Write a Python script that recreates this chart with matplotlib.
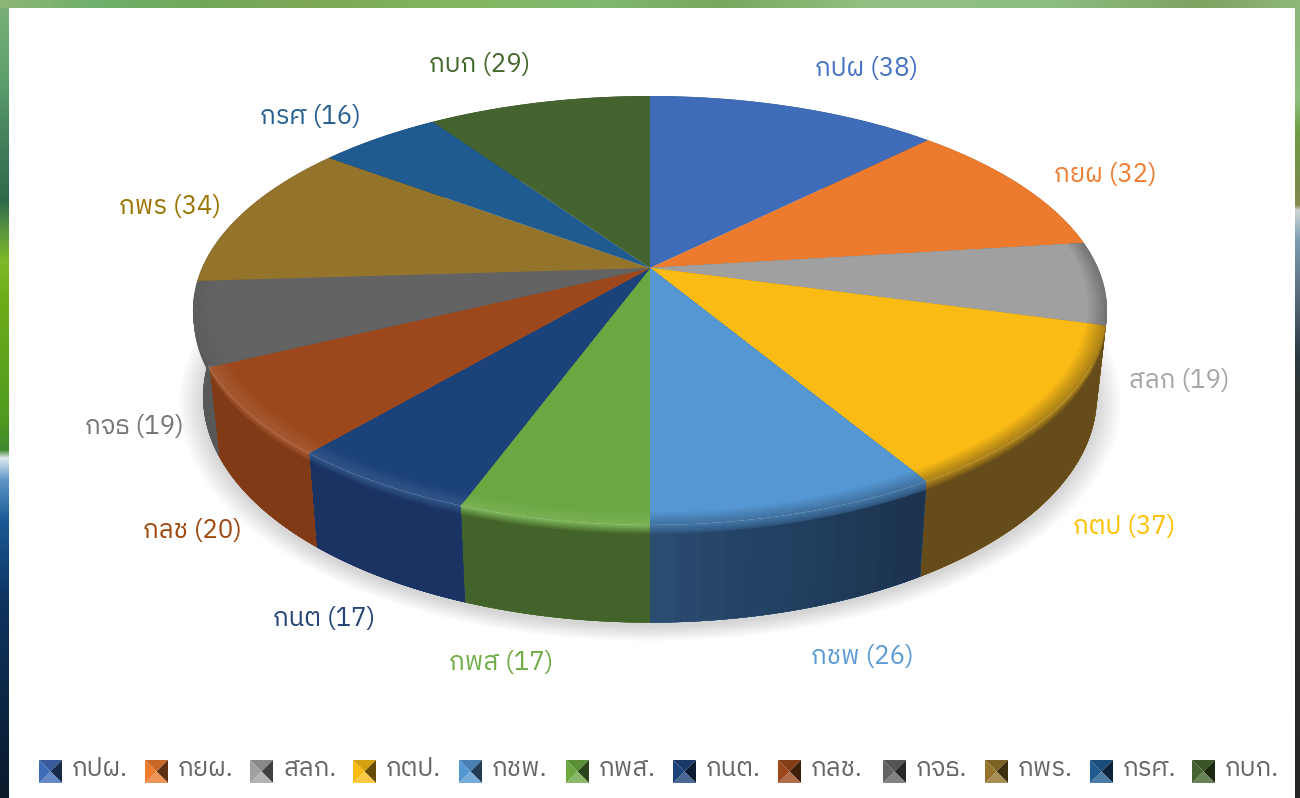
import matplotlib

matplotlib.use("Agg")
import matplotlib.pyplot as plt
import numpy as np
from matplotlib.colors import LinearSegmentedColormap, to_rgb
from matplotlib.patches import Polygon

plt.rcParams["font.family"] = ["IBM Plex Sans Thai", "Kanit", "Noto Sans", "DejaVu Sans"]

# slices, clockwise from 12 o'clock
names = ["กปผ", "กยผ", "สลก", "กตป", "กชพ", "กพส", "กนต", "กลช", "กจธ", "กพร", "กรศ", "กบก"]
values = [38, 32, 19, 37, 26, 17, 17, 20, 19, 34, 16, 29]
top_colors = ["#3f6cb9", "#ec7b2e", "#9fa09f", "#fabb14", "#5597d2", "#6ba842",
              "#1c427a", "#9c481c", "#636363", "#94732b", "#1f5b90", "#44632e"]
side_colors = ["#2a4a80", "#8f4a1c", "#4a4a4a", "#654c1a", "#2c4f75", "#42632a",
               "#1a3362", "#803a16", "#585858", "#5c4718", "#163a5c", "#2a3f1c"]
label_colors = ["#4472c4", "#ed7d31", "#a5a5a5", "#ffc000", "#5b9bd5", "#70ad47",
                "#264478", "#9e480e", "#757575", "#997300", "#255e91", "#43682b"]

# where the text sits (pixels of the 1300x798 picture)
label_xy = [(867, 69), (1105, 175), (1179, 380), (1124, 527), (862, 656), (501, 663),
            (324, 619), (192, 531), (134, 427), (170, 207), (310, 117), (480, 65)]
legend_x = [39, 145, 250, 353, 459, 566, 673, 778, 883, 985, 1090, 1192]

# frame colours: (position in px, colour)
top_band = [(0, "#8db675"), (100, "#6fb06c"), (200, "#70a858"), (300, "#7da757"), (450, "#82b55f"),
            (600, "#7fb96f"), (720, "#78a85e"), (870, "#92c183"), (1050, "#8dbf82"), (1200, "#7ea262"),
            (1300, "#8fb87a")]
left_band = [(0, "#7cb27a"), (80, "#5d9f6c"), (150, "#3f7c5a"), (200, "#2e6a4a"), (230, "#5a9540"),
             (260, "#7db828"), (300, "#6dad1a"), (420, "#4f9a1e"), (450, "#3f8a30"), (458, "#e0eaf0"),
             (480, "#5f96c8"), (520, "#1a5a96"), (600, "#0e3460"), (798, "#0a1a2c")]
right_band = [(0, "#8ab87a"), (100, "#8cc07c"), (130, "#6f9e42"), (190, "#7a8a4a"), (205, "#8a8a50"),
              (210, "#d0d8d8"), (240, "#7a9cb0"), (300, "#566a78"), (355, "#2a3a42"), (400, "#303430"),
              (798, "#262626")]


def project(theta, radius=1.0, level="top"):
    # perspective view of the disc, theta in degrees clockwise from top
    u = radius * np.sin(np.radians(theta))
    v = radius * np.cos(np.radians(theta))
    k = 0.198
    if level == "top":
        a, b, y0 = 448, 206, 268
    else:
        a, b, y0 = 438, 217, 352
    return np.column_stack([650 + a * u / (1 + k * v), y0 - b * v / (1 + k * v)])


def mix(c1, c2, t):
    return tuple((1 - t) * np.array(to_rgb(c1)) + t * np.array(to_rgb(c2)))


def band_image(ax, stops, extent, vertical):
    pos = np.array([s[0] for s in stops], dtype=float)
    cmap = LinearSegmentedColormap.from_list(
        "band", [((p - pos[0]) / (pos[-1] - pos[0]), s[1]) for p, s in zip(pos, stops)], N=800
    )
    grad = np.linspace(0, 1, 800)
    grad = grad[:, None] if vertical else grad[None, :]
    ax.imshow(grad, cmap=cmap, extent=extent, aspect="auto", origin="upper" if vertical else "lower",
              zorder=1, interpolation="bilinear")


fig = plt.figure(figsize=(13, 7.98), dpi=100)
ax = fig.add_axes([0, 0, 1, 1])

band_image(ax, left_band, (0, 9, 798, 0), True)
band_image(ax, right_band, (1295, 1300, 798, 0), True)
band_image(ax, top_band, (0, 1300, 8, 0), False)

# soft shadow under the disc
full = np.linspace(0, 360, 361)
for grow in np.linspace(1.055, 1.0, 14):
    ring = project(full, 1.0, "bottom")
    ring = np.array([650, 352]) + (ring - np.array([650, 352])) * grow + np.array([0, 4])
    ax.add_patch(Polygon(ring, closed=True, fc="black", ec="none", alpha=0.011, zorder=2))

angles = np.cumsum([0] + values) / sum(values) * 360

for i in range(len(values)):
    arc = np.linspace(angles[i], angles[i + 1], 60)
    mid = (angles[i] + angles[i + 1]) / 2
    top_col, side_col = top_colors[i], side_colors[i]
    front = 90 < mid < 270
    lit = 180 < mid < 250
    rim = mix(top_col, "white", 0.09) if lit else mix(top_col, side_col, 0.5)

    # side wall, painted from the top ring down
    outer_top = project(arc)
    outer_bottom = project(arc, level="bottom")
    for t in np.linspace(0, 0.09, 6):
        upper = outer_top + (outer_bottom - outer_top) * t
        ax.add_patch(Polygon(np.vstack([upper, outer_bottom[::-1]]), closed=True,
                             fc=mix(rim if front else side_col, side_col, t / 0.09), ec="none", zorder=3))

    # the light-blue wall gets darker toward the right
    if names[i] == "กชพ":
        for k in np.linspace(60, 8, 12).astype(int):
            upper = outer_top[:k] + (outer_bottom[:k] - outer_top[:k]) * 0.09
            ax.add_patch(Polygon(np.vstack([upper, outer_bottom[:k][::-1]]), closed=True,
                                 fc="black", ec="none", alpha=0.028, zorder=3))

    # top face, with the rim blending in on the near side only
    if front:
        for r in np.linspace(1.0, 0.96, 7):
            w = (1.0 - r) / 0.04
            face = np.vstack([[[650, 268]], project(arc, r)])
            ax.add_patch(Polygon(face, closed=True, fc=mix(rim, top_col, w), ec="none", zorder=4))
    else:
        face = np.vstack([[[650, 268]], project(arc)])
        ax.add_patch(Polygon(face, closed=True, fc=top_col, ec="none", zorder=4))

    ax.text(label_xy[i][0], label_xy[i][1], f"{names[i]} ({values[i]})", color=label_colors[i],
            fontsize=18.5, ha="center", va="center", zorder=6)

    # legend key, a little pyramid
    x0, y0, s = legend_x[i], 760, 23
    c = (x0 + s / 2, y0 + s / 2)
    corners = [(x0, y0), (x0 + s, y0), (x0 + s, y0 + s), (x0, y0 + s)]
    shades = [mix(top_col, "black", 0.15), mix(top_col, "black", 0.6),
              mix(top_col, "white", 0.2), top_col]
    for j in range(4):
        ax.add_patch(Polygon([corners[j], corners[(j + 1) % 4], c], closed=True,
                             fc=shades[j], ec="none", zorder=5))
    ax.text(x0 + s + 10, 769, names[i] + ".", color="#666666", fontsize=18.5,
            ha="left", va="center", zorder=6)

ax.set_xlim(0, 1300)
ax.set_ylim(798, 0)
ax.axis("off")

fig.savefig("out.png", dpi=100)
